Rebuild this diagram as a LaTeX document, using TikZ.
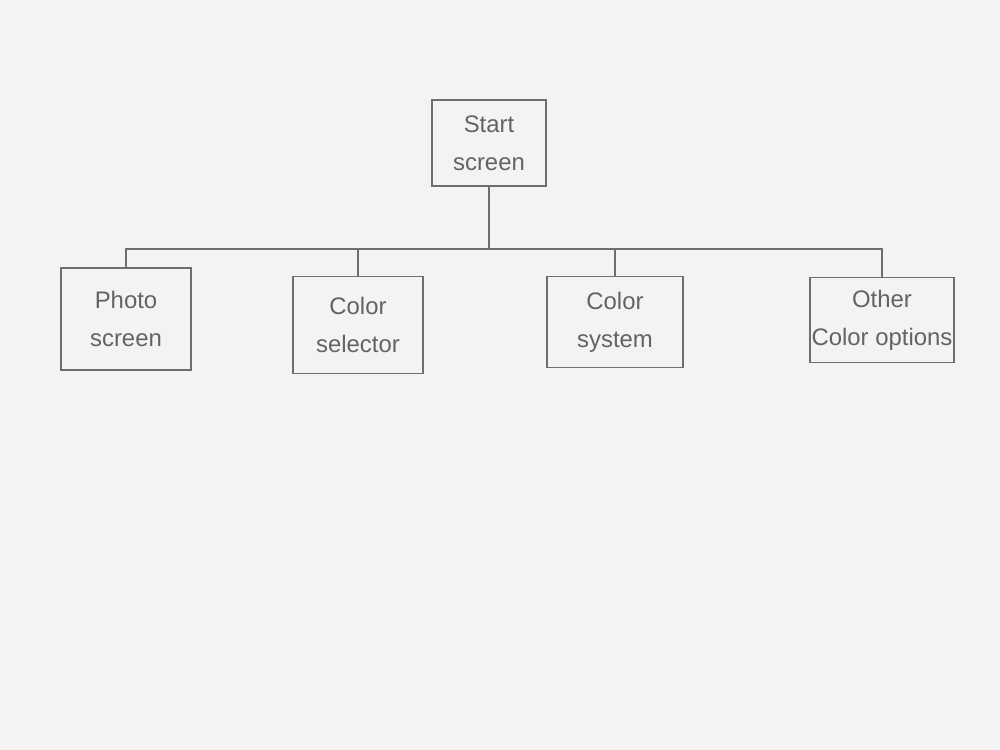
\documentclass[tikz,border=0pt]{standalone}
\usepackage{fontspec}
\setsansfont{Liberation Sans}
\definecolor{pencil}{HTML}{6E6E6E}
\definecolor{paper}{HTML}{F3F3F3}
\tikzset{
  screenbox/.style={draw=pencil, line width=1.1pt, inner sep=1pt, align=center,
    text=pencil!90!black, font=\sffamily\fontsize{17}{27}\selectfont},
  wire/.style={draw=pencil, line width=1pt}
}
\begin{document}
\begin{tikzpicture}[x=0.025cm, y=-0.025cm]
  \fill[paper] (0,0) rectangle (1000,750);
  \useasboundingbox (0,0) rectangle (1000,750);
  % top screen
  \node[screenbox, minimum width=114*0.025cm, minimum height=86*0.025cm] (start) at (489,143) {Start\\screen};
  % second row of screens
  \node[screenbox, minimum width=130*0.025cm, minimum height=102*0.025cm] (photo) at (126,319) {Photo\\screen};
  \node[screenbox, minimum width=130*0.025cm, minimum height=97*0.025cm] (selector) at (358,325) {Color\\selector};
  \node[screenbox, minimum width=136*0.025cm, minimum height=91*0.025cm] (system) at (615,322) {Color\\system};
  \node[screenbox, minimum width=142*0.025cm, minimum height=85*0.025cm] (other) at (882,320) {Other\\Color options};
  % connectors
  \coordinate (bus) at (489,249);
  \draw[wire] (start.south) -- (bus);
  \draw[wire] (photo.north) |- (bus) -| (other.north);
  \draw[wire] (selector.north) -- (selector.north |- bus);
  \draw[wire] (system.north) -- (system.north |- bus);
\end{tikzpicture}
\end{document}
